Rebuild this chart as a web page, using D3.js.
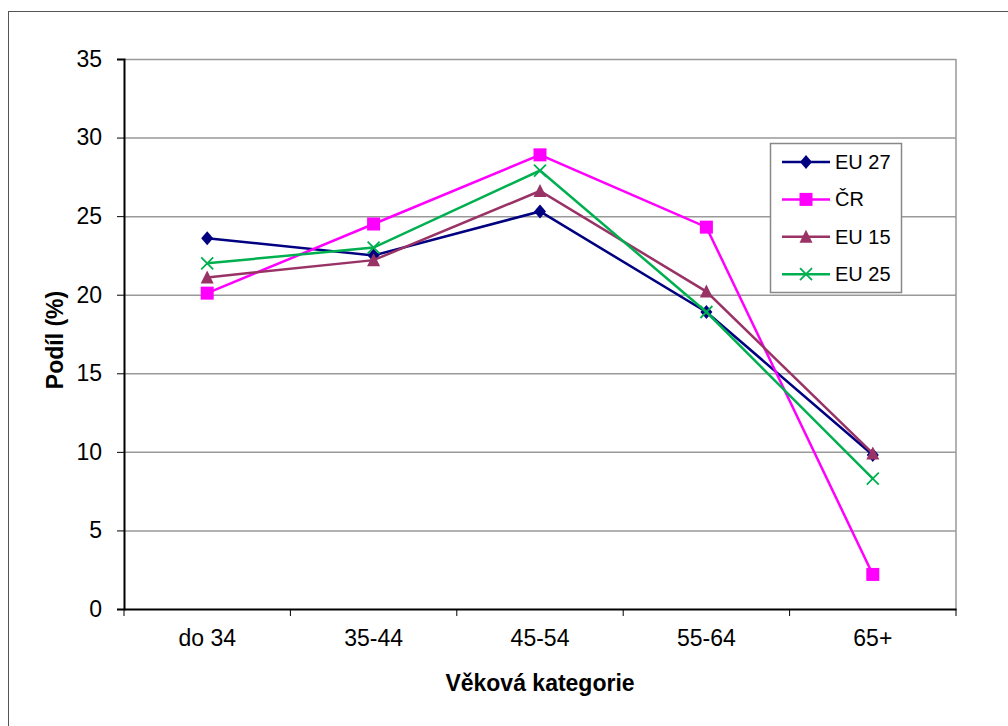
<!DOCTYPE html>
<html>
<head>
<meta charset="utf-8">
<script src="https://cdn.jsdelivr.net/npm/d3@7"></script>
<style>
  body { margin: 0; background: #fff; }
  text { font-family: "Liberation Sans", Arial, sans-serif; fill: #000; }
</style>
</head>
<body>
<svg width="1008" height="726"></svg>
<script>
// data
var categories = ["do 34", "35-44", "45-54", "55-64", "65+"];
var eu27 = [23.6, 22.5, 25.3, 18.9, 9.8];
var cr   = [20.1, 24.5, 28.9, 24.3, 2.2];
var eu15 = [21.1, 22.2, 26.6, 20.2, 9.9];
var eu25 = [22.0, 23.0, 27.9, 18.9, 8.3];
var yTicks = [0, 5, 10, 15, 20, 25, 30, 35];

var series = [
  { name: "EU 27", values: eu27, color: "#000080", marker: "diamond" },
  { name: "ČR",    values: cr,   color: "#FF00FF", marker: "square" },
  { name: "EU 15", values: eu15, color: "#993366", marker: "triangle" },
  { name: "EU 25", values: eu25, color: "#00B050", marker: "cross" }
];

var svg = d3.select("svg");

// outer chart frame
svg.append("rect")
  .attr("x", 8.5).attr("y", 11.5)
  .attr("width", 1020).attr("height", 740)
  .style("fill", "none").style("stroke", "#555").style("stroke-width", 1);

var pLeft = 124, pTop = 59, pRight = 956, pBottom = 609;

var x = d3.scaleBand().domain(categories).range([pLeft, pRight]);
var y = d3.scaleLinear().domain([0, 35]).range([pBottom, pTop]);

// gridlines
svg.append("g")
  .selectAll("line")
  .data(yTicks.filter(function(d) { return d > 0; }))
  .enter().append("line")
  .attr("x1", pLeft).attr("x2", pRight)
  .attr("y1", function(d) { return y(d) + 0.5; })
  .attr("y2", function(d) { return y(d) + 0.5; })
  .style("stroke", "#999").style("stroke-width", 1.5);

// right border of plot area
svg.append("line")
  .attr("x1", pRight).attr("x2", pRight)
  .attr("y1", pTop).attr("y2", pBottom)
  .style("stroke", "#999").style("stroke-width", 1.5);

// y axis
var yAxis = svg.append("g")
  .attr("transform", "translate(" + pLeft + ",0)")
  .call(d3.axisLeft(y).tickValues(yTicks).tickSize(7).tickPadding(15));
yAxis.select(".domain").style("stroke", "#000").style("stroke-width", 2);
yAxis.selectAll(".tick line").style("stroke", "#000");
yAxis.selectAll(".tick text")
  .style("font-size", "23px")
  .style("font-family", "'Liberation Sans', Arial, sans-serif");

// x axis
var xAxis = svg.append("g")
  .attr("transform", "translate(0," + pBottom + ")")
  .call(d3.axisBottom(x).tickSize(0).tickPadding(21));
xAxis.select(".domain").style("stroke", "#000").style("stroke-width", 2);
xAxis.selectAll(".tick text")
  .style("font-size", "23px")
  .style("font-family", "'Liberation Sans', Arial, sans-serif");

// category boundary ticks
svg.append("g")
  .selectAll("line")
  .data(d3.range(categories.length + 1))
  .enter().append("line")
  .attr("x1", function(i) { return pLeft + i * x.step(); })
  .attr("x2", function(i) { return pLeft + i * x.step(); })
  .attr("y1", pBottom).attr("y2", pBottom + 7)
  .style("stroke", "#000").style("stroke-width", 1);

// axis titles
svg.append("text")
  .attr("x", (pLeft + pRight) / 2)
  .attr("y", 691)
  .attr("text-anchor", "middle")
  .style("font-size", "23px")
  .style("font-weight", "bold")
  .text("Věková kategorie");

svg.append("text")
  .attr("text-anchor", "middle")
  .attr("transform", "translate(63," + ((pTop + pBottom) / 2 + 6) + ")rotate(-90)")
  .style("font-size", "23px")
  .style("font-weight", "bold")
  .text("Podíl (%)");

function cx(i) { return x(categories[i]) + x.bandwidth() / 2; }

function drawMarker(g, type, color, px, py) {
  if (type === "diamond") {
    g.append("path")
      .attr("d", "M" + px + "," + (py - 7) + "L" + (px + 6) + "," + py + "L" + px + "," + (py + 7) + "L" + (px - 6) + "," + py + "Z")
      .style("fill", color);
  } else if (type === "square") {
    g.append("rect")
      .attr("x", px - 6.5).attr("y", py - 6.5)
      .attr("width", 13).attr("height", 13)
      .style("fill", color);
  } else if (type === "triangle") {
    g.append("path")
      .attr("d", "M" + px + "," + (py - 7) + "L" + (px + 6.5) + "," + (py + 6) + "L" + (px - 6.5) + "," + (py + 6) + "Z")
      .style("fill", color);
  } else {
    g.append("path")
      .attr("d", "M" + (px - 6) + "," + (py - 6) + "L" + (px + 6) + "," + (py + 6) +
                 "M" + (px + 6) + "," + (py - 6) + "L" + (px - 6) + "," + (py + 6))
      .style("fill", "none").style("stroke", color).style("stroke-width", 1.8);
  }
}

var line = d3.line()
  .x(function(d, i) { return cx(i); })
  .y(function(d) { return y(d); });

series.forEach(function(s) {
  var g = svg.append("g");
  g.append("path")
    .datum(s.values)
    .attr("d", line)
    .style("fill", "none")
    .style("stroke", s.color)
    .style("stroke-width", 2.5);
  s.values.forEach(function(v, i) {
    drawMarker(g, s.marker, s.color, cx(i), y(v));
  });
});

// legend
var legend = svg.append("g");
legend.append("rect")
  .attr("x", 770.5).attr("y", 143.5)
  .attr("width", 131).attr("height", 149)
  .style("fill", "#fff").style("stroke", "#888").style("stroke-width", 1.5);

series.forEach(function(s, i) {
  var ly = 162 + i * 37.4;
  legend.append("line")
    .attr("x1", 782).attr("x2", 830)
    .attr("y1", ly).attr("y2", ly)
    .style("stroke", s.color).style("stroke-width", 2.5);
  drawMarker(legend, s.marker, s.color, 806, ly);
  legend.append("text")
    .attr("x", 835).attr("y", ly + 7)
    .style("font-size", "20px")
    .text(s.name);
});
</script>
</body>
</html>
